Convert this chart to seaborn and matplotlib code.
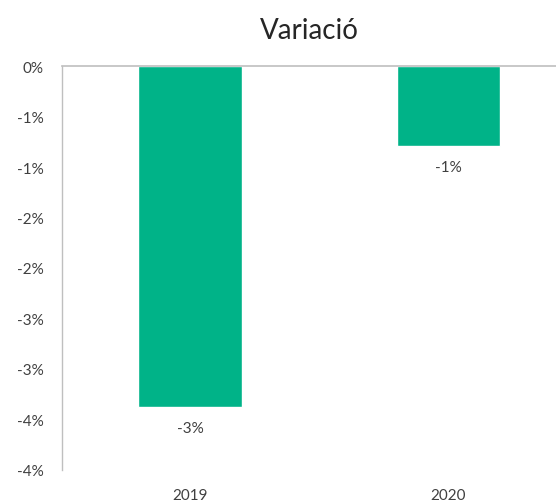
import math
import pandas as pd
import matplotlib
matplotlib.use("Agg")
import matplotlib.pyplot as plt
import matplotlib.ticker as mticker
import seaborn as sns

# ── Data ──────────────────────────────────────────────────────────────────
years = ["2019", "2020"]
variation = [-3.38, -0.79]          # percent
y_ticks = [0, -0.5, -1, -1.5, -2, -2.5, -3, -3.5, -4]

BAR_COLOR = "#00B388"
TEXT_COLOR = "#404040"
AXIS_COLOR = "#BFBFBF"

sns.set_theme(style="white")
plt.rcParams["font.family"] = ["Lato", "DejaVu Sans"]


def pct_round(v):
    # Excel-style rounding (half away from zero)
    r = math.floor(abs(v) + 0.5) * (1 if v >= 0 else -1)
    return f"{int(r)}%"


df = pd.DataFrame({"year": years, "variation": variation})

fig = plt.figure(figsize=(5.56, 5.02), dpi=100)
ax = fig.add_axes([62 / 556, 31 / 502, 494 / 556, 404 / 502])

sns.barplot(data=df, x="year", y="variation", color=BAR_COLOR,
            width=0.4, saturation=1, ax=ax)

ax.set_ylim(-4, 0)
ax.set_xlim(-0.495, 1.416)
ax.set_yticks(y_ticks)
ax.yaxis.set_major_formatter(mticker.FuncFormatter(lambda v, _: pct_round(v)))

for container in ax.containers:
    ax.bar_label(container, labels=[pct_round(v) for v in variation],
                 padding=10, fontsize=11, color=TEXT_COLOR)

ax.set_title("Variació", fontsize=20, color="#262626", pad=20)
ax.set_xlabel("")
ax.set_ylabel("")
ax.tick_params(axis="y", length=0, pad=13, labelsize=11, labelcolor=TEXT_COLOR)
ax.tick_params(axis="x", length=0, pad=13, labelsize=11, labelcolor=TEXT_COLOR)

for side in ["bottom", "right"]:
    ax.spines[side].set_visible(False)
ax.spines["top"].set_color(AXIS_COLOR)
ax.spines["top"].set_linewidth(1.2)
ax.spines["left"].set_color(AXIS_COLOR)
ax.spines["left"].set_linewidth(1.0)

fig.savefig("out.png", dpi=100)
plt.close(fig)
